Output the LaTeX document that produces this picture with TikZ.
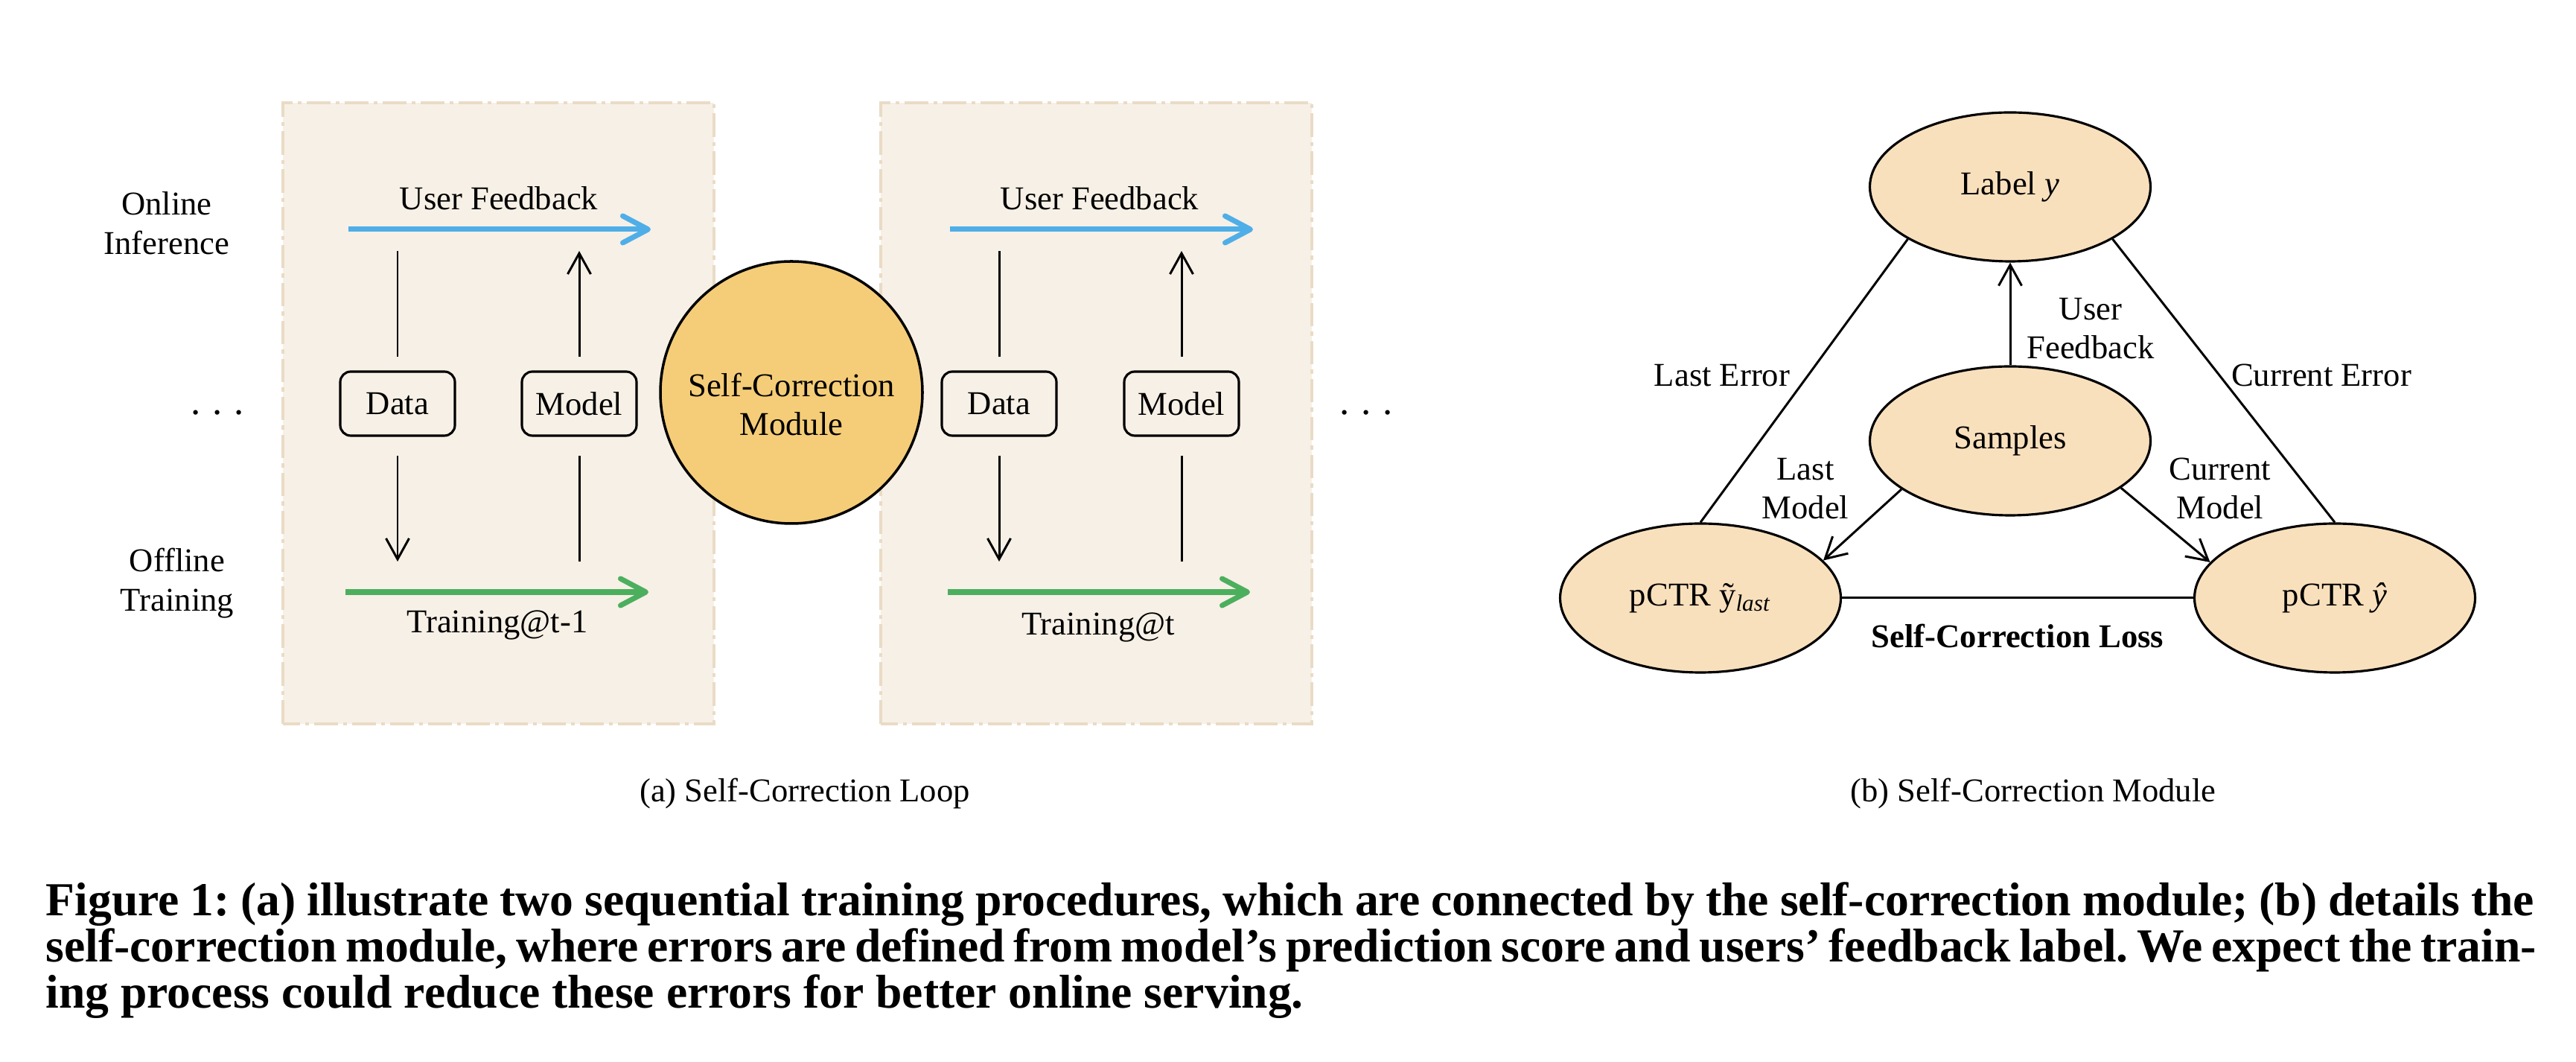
\documentclass[tikz,border=0pt]{standalone}
\usepackage{fontspec}
\setmainfont{Liberation Serif}
\usetikzlibrary{arrows.meta,shapes.geometric}
\definecolor{stagefill}{HTML}{F7F0E6}
\definecolor{stageline}{HTML}{EADBC6}
\definecolor{modulefill}{HTML}{F5CD78}
\definecolor{nodefill}{HTML}{F9E0BD}
\definecolor{feedblue}{HTML}{4FAEE8}
\definecolor{traingreen}{HTML}{4CAF5E}

\begin{document}
\begin{tikzpicture}[
  font=\fontsize{12.7}{15}\selectfont,
  stage/.style={fill=stagefill, draw=stageline, line width=1pt, dash pattern=on 9pt off 2pt on 1.5pt off 2pt},
  smallbox/.style={draw, rounded corners=4pt, line width=0.9pt, minimum width=1.54cm, minimum height=0.86cm, inner sep=0pt},
  module/.style={circle, draw, fill=modulefill, line width=1pt, minimum size=3.52cm},
  bubble/.style={ellipse, draw, fill=nodefill, line width=0.9pt, minimum width=3.77cm, minimum height=2cm, inner sep=0pt},
  feed/.style={line width=2pt, -{Straight Barb[length=3.4mm,width=3.6mm,round]}},
  link/.style={line width=0.85pt},
  linkarrow/.style={link, -{Straight Barb[length=2.8mm,width=3.1mm]}}
]
\path[fill=white] (0,0) rectangle (34.60,14.26);
\useasboundingbox (0,0) rectangle (34.60,14.26);

\path[stage] (3.80,4.54) rectangle (9.59,12.88);
\path[stage] (11.83,4.54) rectangle (17.62,12.88);

\node[align=center] (online) at (2.24,11.26) {Online\\Inference};
\node[align=center] (offline) at (2.38,6.43) {Offline\\Training};
\node[anchor=base, font=\fontsize{15}{15}\selectfont] (dotsl) at (2.92,8.69) {.\hspace{0.3em}.\hspace{0.3em}.};
\node[anchor=base, font=\fontsize{15}{15}\selectfont] (dotsr) at (18.35,8.69) {.\hspace{0.3em}.\hspace{0.3em}.};

\coordinate (fbA1) at (4.68,11.18);
\coordinate (fbB1) at (8.74,11.18);
\coordinate (trA1) at (4.64,6.31);
\coordinate (trB1) at (8.71,6.31);
\coordinate (fbA2) at (12.76,11.18);
\coordinate (fbB2) at (16.83,11.18);
\coordinate (trA2) at (12.73,6.31);
\coordinate (trB2) at (16.79,6.31);

\draw[feed, feedblue] (fbA1) -- (fbB1);
\draw[feed, traingreen] (trA1) -- (trB1);
\draw[feed, feedblue] (fbA2) -- (fbB2);
\draw[feed, traingreen] (trA2) -- (trB2);

\node (fbtext1) at (6.70,11.60) {User Feedback};
\node (trtext1) at (6.68,5.87) {Training@t-1};
\node (fbtext2) at (14.77,11.60) {User Feedback};
\node (trtext2) at (14.75,5.84) {Training@t};

\node[smallbox] (data1) at (5.34,8.84) {Data};
\node[smallbox] (model1) at (7.78,8.84) {Model};
\node[smallbox] (data2) at (13.42,8.84) {Data};
\node[smallbox] (model2) at (15.87,8.84) {Model};

\draw[link, shorten <=1.8mm, shorten >=2.9mm] (data1) -- (data1 |- fbA1);
\draw[linkarrow, shorten <=2.5mm, shorten >=4.1mm] (data1) -- (data1 |- trA1);
\draw[linkarrow, shorten <=1.8mm, shorten >=2.9mm] (model1) -- (model1 |- fbA1);
\draw[link, shorten <=2.5mm, shorten >=4.1mm] (model1) -- (model1 |- trA1);
\draw[link, shorten <=1.8mm, shorten >=2.9mm] (data2) -- (data2 |- fbA2);
\draw[linkarrow, shorten <=2.5mm, shorten >=4.1mm] (data2) -- (data2 |- trA2);
\draw[linkarrow, shorten <=1.8mm, shorten >=2.9mm] (model2) -- (model2 |- fbA2);
\draw[link, shorten <=2.5mm, shorten >=4.1mm] (model2) -- (model2 |- trA2);

\node[module] (scm) at (10.63,8.99) {};
\node[align=center] (scmtext) at (10.63,8.83) {Self-Correction\\Module};

\node[bubble] (label) at (27.00,11.75) {Label \textit{y}};
\node[bubble] (samples) at (27.00,8.34) {Samples};
\node[bubble] (last) at (22.84,6.23) {pCTR ỹ\textsubscript{\textit{last}}};
\node[bubble] (hat) at (31.36,6.23) {pCTR \textit{ŷ}};

\draw[link] (label.207) -- (last.north);
\draw[link] (label.333) -- (hat.north);
\draw[link] (last) -- (hat);
\draw[linkarrow] (samples) -- (label);
\draw[linkarrow] (samples.204) -- (last.17);
\draw[linkarrow] (samples.337) -- (hat.164);

\node (lasterr) at (23.13,9.22) {Last Error};
\node[align=center] (fbtext3) at (28.08,9.85) {User\\Feedback};
\node (curerr) at (31.18,9.22) {Current Error};
\node[align=center] (lastmod) at (24.25,7.70) {Last\\Model};
\node[align=center] (curmod) at (29.82,7.70) {Current\\Model};
\node[font=\fontsize{12.7}{15}\selectfont\bfseries] (loss) at (27.10,5.72) {Self-Correction Loss};

\node (capa) at (10.81,3.60) {(a) Self-Correction Loop};
\node (capb) at (27.31,3.60) {(b) Self-Correction Module};

\begin{scope}[font=\fontsize{18.1}{21}\selectfont\bfseries\frenchspacing]
\node[anchor=base west, inner sep=0pt] (capline1) at (0.61,1.96) {\makebox[33.42cm][s]{Figure 1: (a) illustrate two sequential training procedures, which are connected by the self-correction module; (b) details the}};
\node[anchor=base west, inner sep=0pt] (capline2) at (0.61,1.34) {\makebox[33.45cm][s]{self-correction module, where errors are defined from model’s prediction score and users’ feedback label. We expect the train-}};
\node[anchor=base west, inner sep=0pt] (capline3) at (0.61,0.72) {ing process could reduce these errors for better online serving.};
\end{scope}
\end{tikzpicture}
\end{document}
